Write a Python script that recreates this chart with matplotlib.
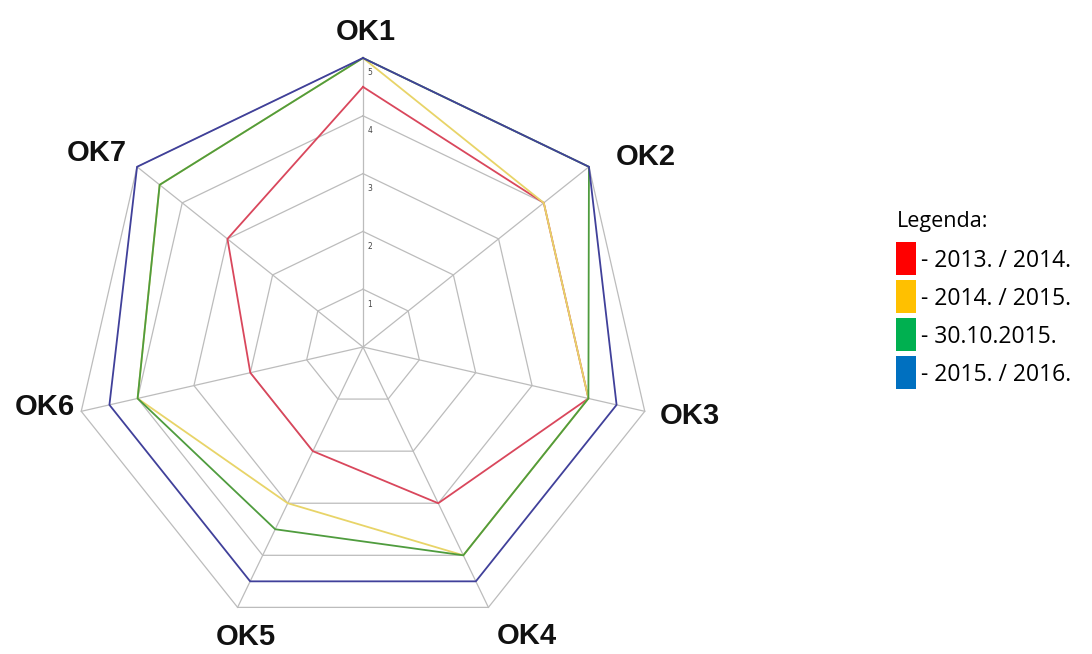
import numpy as np
import matplotlib.pyplot as plt
from matplotlib.patches import Rectangle

# axes of the radar, clockwise from the top
categories = ["OK1", "OK2", "OK3", "OK4", "OK5", "OK6", "OK7"]
ring_values = [1, 2, 3, 4, 5]

# school years
series_names = ["- 2013. / 2014.", "- 2014. / 2015.", "- 30.10.2015.", "- 2015. / 2016."]
red_vals = [4.5, 4, 4, 3, 2, 2, 3]
yellow_vals = [5, 4, 4, 4, 3, 4, 4.5]
green_vals = [5, 5, 4, 4, 3.5, 4, 4.5]
blue_vals = [5, 5, 4.5, 4.5, 4.5, 4.5, 5]

line_colors = ["#d9475c", "#e8d468", "#4f9c3e", "#40409a"]
legend_colors = ["#ff0000", "#ffc000", "#00b050", "#0070c0"]

n = len(categories)
ang = np.pi / 2 - 2 * np.pi * np.arange(n) / n
ux, uy = np.cos(ang), np.sin(ang)


def closed(v):
    v = np.asarray(v, dtype=float)
    return np.append(v * ux, v[0] * ux[0]), np.append(v * uy, v[0] * uy[0])


fig = plt.figure(figsize=(10.92, 6.54), dpi=100)
ax = fig.add_axes([0, 0, 1, 1])
scale = 57.8  # pixels per unit
cx, cy = 363, 347
ax.set_xlim(-cx / scale, (1092 - cx) / scale)
ax.set_ylim(-(654 - cy) / scale, cy / scale)
ax.axis("off")

# grid rings and spokes
for r in ring_values:
    x, y = closed([r] * n)
    ax.plot(x, y, color="#bcbcbc", lw=0.9, zorder=1)
for i in range(n):
    ax.plot([0, 5 * ux[i]], [0, 5 * uy[i]], color="#bcbcbc", lw=0.9, zorder=1)

for r in ring_values:
    ax.text(0.08, r - 0.18, str(r), fontsize=5.5, color="#444444",
            ha="left", va="top", zorder=2)

# data lines
for vals, c in zip([red_vals, yellow_vals, green_vals, blue_vals], line_colors):
    x, y = closed(vals)
    ax.plot(x, y, color=c, lw=1.3, zorder=3)

# category labels (pixel positions of the original)
label_pos = [(366, 32), (646, 157), (690, 416), (527, 636),
             (246, 637), (45, 407), (97, 153)]
for name, (px, py) in zip(categories, label_pos):
    fig.text(px / 1092, 1 - py / 654, name, fontsize=21, fontweight="bold",
             family="Liberation Sans", ha="center", va="center", color="#111111")

# legend
fig.text(897 / 1092, 1 - 227 / 654, "Legenda:", fontsize=15.5, family="Open Sans",
         ha="left", va="baseline")
for k, (name, c) in enumerate(zip(series_names, legend_colors)):
    top = 242 + k * 38
    fig.patches.append(Rectangle((896 / 1092, 1 - (top + 33) / 654), 20 / 1092, 33 / 654,
                                 transform=fig.transFigure, facecolor=c,
                                 edgecolor="none"))
    fig.text(921 / 1092, 1 - (top + 25) / 654, name, fontsize=16.5, family="Open Sans",
             ha="left", va="baseline")

fig.savefig("out.png", dpi=100)
